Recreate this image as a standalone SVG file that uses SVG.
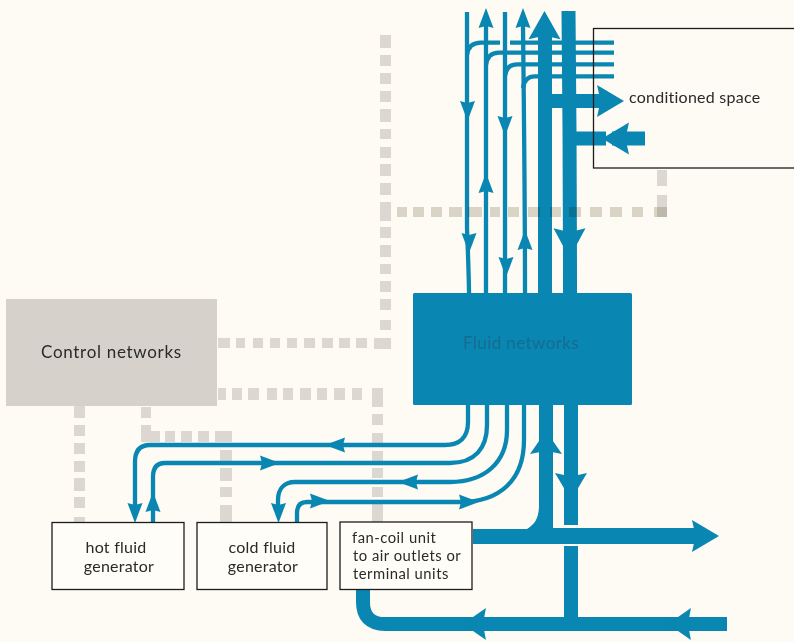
<svg xmlns="http://www.w3.org/2000/svg" xmlns:xlink="http://www.w3.org/1999/xlink" width="794" height="642" viewBox="0 0 794 642">
<style>
.dot{fill:#dcd8d1}
.mul{mix-blend-mode:multiply}
.thin{fill:none;stroke:#0a86b2;stroke-width:4.3}
.thick{fill:none;stroke:#0a86b2;stroke-width:14}
.hd{fill:#0a86b2}
.box{fill:#fefdf7;stroke:#1c1c1c;stroke-width:1.3}
text{font-family:"Lato","Open Sans",sans-serif;font-size:16px;fill:#2a2a2a;letter-spacing:.25px}
.sm{font-size:14.800px;letter-spacing:.5px}
</style>
<defs>
<polygon id="sm" points="0,0 7.500,20 0,18 -7.500,20"/>
<polygon id="lg" points="0,0 16,27 7,25 -7,25 -16,27"/>
</defs>
<rect width="794" height="642" fill="#fdfbf3"/>
<g id="connectors">
<g id="control-lines">
<path class="dot" d="M380 35h11v13h-11zM380 55h11v11h-11zM380 73h11v11h-11zM380 91h11v11h-11zM380 109h11v13h-11zM380 129h11v10h-11zM380 147h11v11h-11zM380 164h11v12h-11zM380 183h11v12h-11zM380 202h11v19h-11zM380 227h11v11h-11zM380 245h11v12h-11zM380 264h11v10h-11zM380 281h11v11h-11zM380 299h11v11h-11zM380 320h11v10h-11z"/>
<path class="dot" d="M218 338h12v10h-12zM236 338h9v10h-9zM253 338h10v10h-10zM270 338h10v10h-10zM287 338h10v10h-10zM304 338h11v10h-11zM322 338h11v10h-11zM339 338h11v10h-11zM356 338h11v10h-11zM374 338h17v11h-17z"/>
<path class="dot" d="M218 388h8v12h-8zM232 388h10v12h-10zM248 388h11v12h-11zM267 388h10v12h-10zM283 388h10v12h-10zM300 388h11v12h-11zM317 388h10v12h-10zM334 388h11v12h-11zM352 388h10v12h-10zM372 388h11v19h-11zM372 414h11v11h-11zM372 433h11v11h-11zM372 451h11v11h-11zM372 468h11v10h-11zM372 487h11v10h-11zM372 503h11v19h-11z"/>
<path class="dot" d="M74 405h11v13h-11zM74 425h11v11h-11zM74 443h11v11h-11zM74 461h11v11h-11zM74 478h11v13h-11zM74 497h11v11h-11zM74 517h11v6h-11z"/>
<path class="dot" d="M141 407h10v11h-10zM141 425h10v6h9v11h-19zM165 431h10v11h-10zM181 431h11v11h-11zM198 431h11v11h-11zM215 431h17v11h-17zM220 450h12v12h-12zM220 468h12v13h-12zM220 487h12v10h-12zM220 505h12v17h-12z"/>
<path class="dot" d="M657 170h10v16h-10zM657 195h10v22h-10z"/>
</g>
<g id="fluid-lines">
<path class="thin" d="M467 12V228Q469 280 469 293"/>
<path class="thin" d="M486 26V293"/>
<path class="thin" d="M505 12V293"/>
<path class="thin" d="M523 26Q525 200 525 293"/>
<path class="thin" d="M467 55C468 47 473 42.700 481 42.700H500M510 42.700H614"/>
<path class="thin" d="M486 65C487 57 491 52.700 499 52.700H614"/>
<path class="thin" d="M505 76C506 68 510 64.300 517 64.300H614"/>
<path class="thin" d="M523 88C524 80 528 76.300 535 76.300H614"/>
<path class="thick" d="M545 35V293"/>
<path class="thick" d="M568.500 11Q570 150 570 293"/>
<path class="thick" d="M545 101H605"/>
<path class="thick" d="M568 138.500H606M612 138.500H645"/>
<path class="thin" d="M468 404V422C468 437 460 445 445 445H150C140 445 135 451 135 462V506"/>
<path class="thin" d="M487 404V425C487 448 475 463 450 463H165C157 463 153 468 153 477V522"/>
<path class="thin" d="M507 404V430C507 462 485 482 450 482H295C284 482 278 489 278 500V506"/>
<path class="thin" d="M524 404V440C524 480 500 502 460 502H307C300 502 297 506 297 513V522"/>
<path class="hd" d="M539 404V505C539 518 535 524 527 529H473V544H700V528H553V404z"/>
<path class="thick" d="M571 404V525M571 546V622"/>
<path class="thick" d="M727 624H385C370 624 363 616 363 602V589"/>
<path class="dot mul" d="M397 207h10v10h-10zM413 207h11v10h-11zM431 207h11v10h-11zM449 207h13v10h-13zM468 207h14v10h-14zM490 207h10v10h-10zM508 207h11v10h-11zM528 207h12v10h-12zM550 207h11v10h-11zM569 207h12v10h-12zM590 207h12v10h-12zM610 207h12v10h-12zM632 207h11v10h-11zM654 207h13v10h-13z"/>
<g class="hd">
<use xlink:href="#sm" href="#sm" transform="translate(486 8)"/>
<use xlink:href="#sm" href="#sm" transform="translate(523 8)"/>
<use xlink:href="#lg" href="#lg" transform="translate(544.500 11) scale(1 1.05)"/>
<use xlink:href="#sm" href="#sm" transform="translate(467.500 121) rotate(180)"/>
<use xlink:href="#sm" href="#sm" transform="translate(505 136) rotate(180)"/>
<use xlink:href="#sm" href="#sm" transform="translate(486 173)"/>
<use xlink:href="#sm" href="#sm" transform="translate(469 253) rotate(180)"/>
<use xlink:href="#sm" href="#sm" transform="translate(506 277) rotate(180)"/>
<use xlink:href="#sm" href="#sm" transform="translate(525 230)"/>
<use xlink:href="#lg" href="#lg" transform="translate(624 101) rotate(90)"/>
<use xlink:href="#lg" href="#lg" transform="translate(602 138.500) rotate(-90)"/>
<use xlink:href="#lg" href="#lg" transform="translate(569.500 258) rotate(180) scale(1 1.100)"/>
<use xlink:href="#sm" href="#sm" transform="translate(325 445) rotate(-90)"/>
<use xlink:href="#sm" href="#sm" transform="translate(280 463) rotate(90)"/>
<use xlink:href="#sm" href="#sm" transform="translate(398 482) rotate(-90)"/>
<use xlink:href="#sm" href="#sm" transform="translate(330 501) rotate(90)"/>
<use xlink:href="#sm" href="#sm" transform="translate(479 502) rotate(90)"/>
<use xlink:href="#sm" href="#sm" transform="translate(135 523) rotate(180)"/>
<use xlink:href="#sm" href="#sm" transform="translate(153 492)"/>
<use xlink:href="#sm" href="#sm" transform="translate(278.500 523) rotate(180)"/>
<use xlink:href="#lg" href="#lg" transform="translate(546 431) scale(1 .85)"/>
<use xlink:href="#lg" href="#lg" transform="translate(571 500) rotate(180)"/>
<use xlink:href="#lg" href="#lg" transform="translate(719 536) rotate(90)"/>
<use xlink:href="#lg" href="#lg" transform="translate(668 624) rotate(-90) scale(1 .85)"/>
<use xlink:href="#lg" href="#lg" transform="translate(463 624) rotate(-90) scale(1 .85)"/>
</g>
</g>
</g>
<g id="conditioned-space">
<rect x="593.500" y="28.500" width="210" height="139.500" fill="none" stroke="#1c1c1c" stroke-width="1.300"/>
<text x="629" y="103">conditioned space</text>
</g>
<g id="fluid-networks">
<rect x="413" y="293" width="219" height="112" rx="1.500" fill="#0a86b2"/>
<text x="463" y="349" style="font-size:17px;fill:#156c90;letter-spacing:.4px">Fluid networks</text>
</g>
<g id="control-networks">
<rect x="6" y="299" width="211" height="107" fill="#d6d2cb"/>
<text x="41" y="358" style="font-size:17px;letter-spacing:.7px">Control networks</text>
</g>
<g id="hot-fluid-generator">
<rect class="box" x="52" y="522.500" width="132" height="67"/>
<text x="116" y="553" text-anchor="middle">hot fluid</text>
<text x="119" y="572" text-anchor="middle">generator</text>
</g>
<g id="cold-fluid-generator">
<rect class="box" x="197" y="522.500" width="130" height="67"/>
<text x="262" y="553" text-anchor="middle">cold fluid</text>
<text x="263" y="572" text-anchor="middle">generator</text>
</g>
<g id="fan-coil-unit">
<rect class="box" x="340" y="522" width="132" height="67.500"/>
<text class="sm" x="352" y="543">fan-coil unit</text>
<text class="sm" x="353" y="561">to air outlets or</text>
<text class="sm" x="353" y="579">terminal units</text>
</g>
</svg>
